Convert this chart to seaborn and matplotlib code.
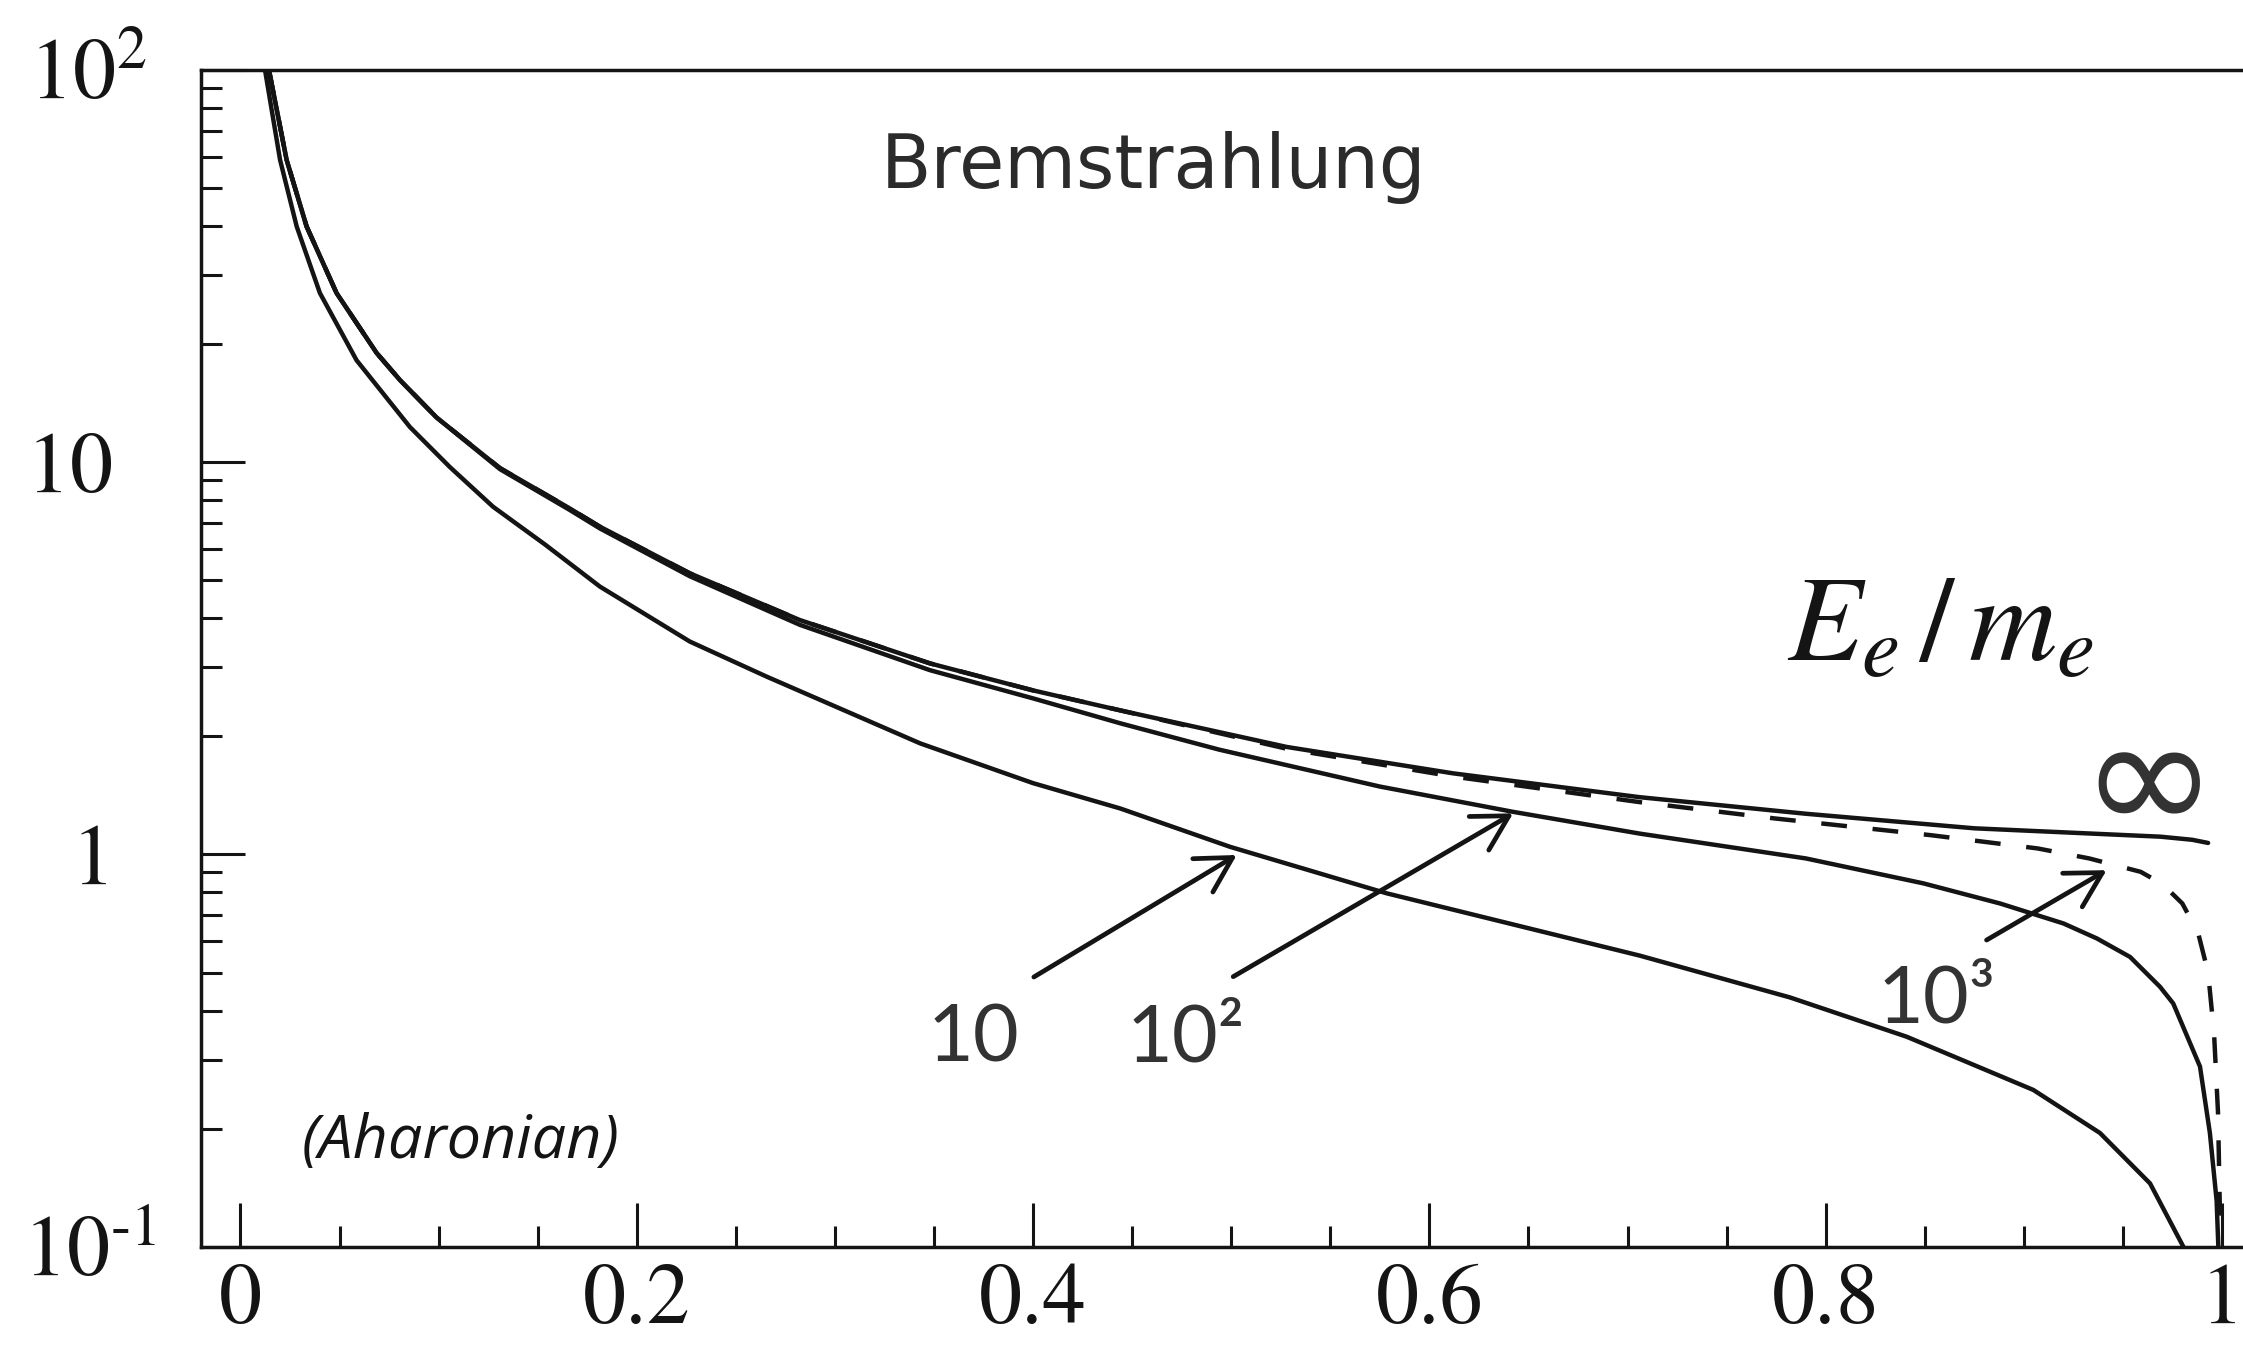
import matplotlib
matplotlib.use("Agg")
import matplotlib.pyplot as plt
import seaborn as sns

# Bremsstrahlung photon spectrum vs. energy fraction, for several E_e/m_e
x_10 = [0.0124, 0.0200, 0.0284, 0.0401, 0.0586, 0.0855, 0.1057, 0.1275, 0.1537,
        0.1814, 0.2268, 0.2656, 0.343, 0.400, 0.444, 0.4994, 0.5785, 0.7063,
        0.782, 0.8409, 0.9048, 0.9384, 0.9637, 0.9805]
y_10 = [100, 59, 39.9, 27, 18.2, 12.3, 9.72, 7.70, 6.17,
        4.82, 3.49, 2.84, 1.92, 1.52, 1.31, 1.046, 0.796, 0.552,
        0.432, 0.343, 0.251, 0.195, 0.145, 0.100]

x_1e2 = [0.0144, 0.0233, 0.0334, 0.0485, 0.0687, 0.0805, 0.099, 0.131, 0.1663,
         0.1814, 0.2268, 0.2823, 0.348, 0.400, 0.444, 0.494, 0.575, 0.642,
         0.7063, 0.790, 0.8493, 0.888, 0.920, 0.9368, 0.9536, 0.9687, 0.9754,
         0.9889, 0.9939, 0.9973, 0.9985]
y_1e2 = [100, 59, 39.9, 27, 19.0, 16.2, 13.0, 9.60, 7.55,
         6.78, 5.12, 3.85, 2.95, 2.50, 2.16, 1.85, 1.49, 1.285,
         1.13, 0.977, 0.844, 0.750, 0.667, 0.611, 0.548, 0.46, 0.417,
         0.288, 0.195, 0.131, 0.09]

x_1e3 = [0.0144, 0.0233, 0.0334, 0.0485, 0.0687, 0.0805, 0.099, 0.131, 0.1663,
         0.1814, 0.2268, 0.2823, 0.348, 0.400, 0.444, 0.528, 0.612, 0.706,
         0.774, 0.853, 0.907, 0.933, 0.959, 0.970, 0.980, 0.988, 0.993,
         0.996, 0.998, 0.999]
y_1e3 = [100, 59, 39.9, 27, 19.0, 16.2, 13.0, 9.66, 7.62,
         6.85, 5.21, 3.96, 3.07, 2.62, 2.33, 1.86, 1.58, 1.36,
         1.236, 1.12, 1.036, 0.977, 0.903, 0.84, 0.75, 0.63, 0.50,
         0.35, 0.22, 0.12]

x_inf = [0.0144, 0.0233, 0.0334, 0.0485, 0.0687, 0.0805, 0.099, 0.131, 0.1663,
         0.1814, 0.2268, 0.2823, 0.348, 0.400, 0.444, 0.528, 0.612, 0.706,
         0.790, 0.875, 0.969, 0.985, 0.993]
y_inf = [100, 59, 39.9, 27, 19.0, 16.2, 13.0, 9.66, 7.62,
         6.85, 5.21, 3.96, 3.07, 2.62, 2.33, 1.88, 1.61, 1.40,
         1.27, 1.166, 1.11, 1.09, 1.07]

x_ticks = [0.0, 0.2, 0.4, 0.6, 0.8, 1.0]
x_ticklabels = ["0", "0.2", "0.4", "0.6", "0.8", "1"]
y_ticks = [0.1, 1, 10, 100]
y_ticklabels = ["$10^{\u2010 1}$", r"$1$", r"$10$", r"$10^{2}$"]

# curve labels: (text, label x, label y, arrow tail, arrow tip)
curve_labels = ["10", "10²", "10³"]
label_pos = [(0.3465, 0.296), (0.4474, 0.296), (0.8264, 0.374)]
arrow_tail = [(0.4004, 0.487), (0.501, 0.488), (0.8812, 0.605)]
arrow_tip = [(0.5028, 0.997), (0.6423, 1.273), (0.9418, 0.912)]

sns.set_theme(style="white")
plt.rcParams["mathtext.fontset"] = "stix"
plt.rcParams["font.family"] = ["STIXGeneral", "DejaVu Sans"]

W, H = 2243, 1357
fig = plt.figure(figsize=(W / 100, H / 100), dpi=100)
ax = fig.add_axes([201 / W, 110.3 / H, 2060.6 / W, 1176.7 / H])

ink = "#141414"
lw = 3.2
sns.lineplot(x=x_10, y=y_10, ax=ax, color=ink, lw=lw, estimator=None, sort=False)
sns.lineplot(x=x_1e2, y=y_1e2, ax=ax, color=ink, lw=lw, estimator=None, sort=False)
sns.lineplot(x=x_inf, y=y_inf, ax=ax, color=ink, lw=lw, estimator=None, sort=False)
sns.lineplot(x=x_1e3, y=y_1e3, ax=ax, color=ink, lw=lw, estimator=None, sort=False,
             linestyle=(0, (5.8, 5.8)))

ax.set_yscale("log")
ax.set_xlim(-0.0199, 1.02)
ax.set_ylim(0.1, 100)

ax.set_xticks(x_ticks)
ax.set_xticklabels(x_ticklabels)
ax.xaxis.set_minor_locator(matplotlib.ticker.MultipleLocator(0.05))
ax.set_yticks(y_ticks)
ax.set_yticklabels(y_ticklabels)
ax.yaxis.set_minor_locator(matplotlib.ticker.LogLocator(base=10, subs=range(2, 10)))
ax.yaxis.set_minor_formatter(matplotlib.ticker.NullFormatter())

ax.tick_params(axis="both", which="both", direction="in", color=ink,
               left=True, bottom=True, top=False, right=False,
               labelcolor=ink, labelsize=62)
ax.tick_params(axis="both", which="major", length=32, width=2.2)
ax.tick_params(axis="both", which="minor", length=15, width=2.2)
ax.tick_params(axis="x", which="major", pad=12)
ax.tick_params(axis="y", which="major", pad=64)

ax_w = 2060.6
for lab, dx in zip(ax.get_yticklabels(), [44, -5, 0, 35]):
    lab.set_x(dx / ax_w)

for side in ("top", "left", "bottom"):
    ax.spines[side].set_linewidth(2.5)
    ax.spines[side].set_color(ink)
ax.spines["right"].set_visible(False)

# annotations
soft = "#2b2b2b"
ax.text(0.461, 50.0, "Bremstrahlung", family="DejaVu Sans",
        fontsize=53, color=soft, ha="center", va="baseline")
ax.text(0.111, 0.168, "(Aharonian)", family="Open Sans", style="italic",
        fontsize=44, color=ink, ha="center", va="baseline")
ax.text(0.858, 3.11, r"$E_e\,/\,m_e$", fontsize=88, color=ink,
        ha="center", va="baseline")
ax.text(0.963, 1.46, "\u221e", family=["Noto Sans", "DejaVu Sans"],
        fontsize=118, color="#333333", ha="center", va="center")

for txt, (lx, ly), tail, tip in zip(curve_labels, label_pos, arrow_tail, arrow_tip):
    ax.text(lx, ly, txt, family="Lato", fontsize=57,
            color="#333333", ha="left", va="baseline")
    ax.annotate("", xy=tip, xytext=tail,
                arrowprops=dict(arrowstyle="->, head_length=0.5, head_width=0.28",
                                mutation_scale=50, lw=3.4, color=ink,
                                shrinkA=0, shrinkB=0))

fig.savefig("out.png", dpi=100, facecolor="white")
